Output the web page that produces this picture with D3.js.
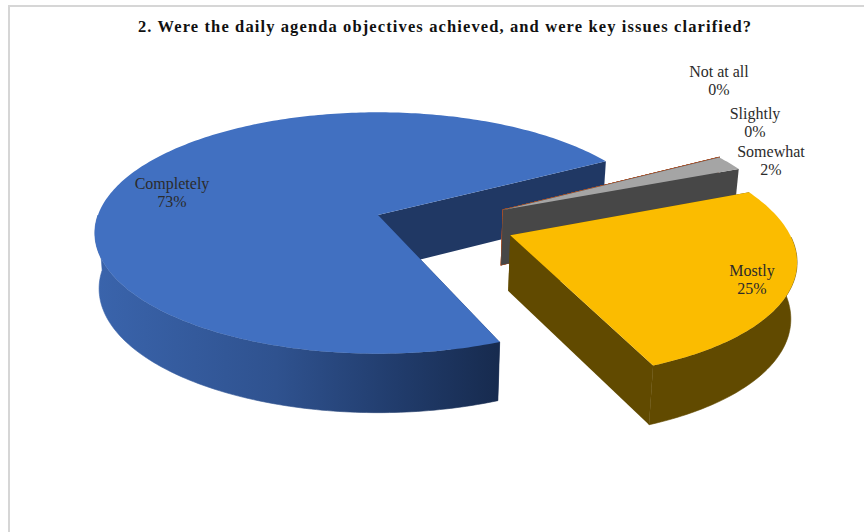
<!DOCTYPE html>
<html>
<head>
<meta charset="utf-8">
<script src="https://cdn.jsdelivr.net/npm/d3@7/dist/d3.min.js"></script>
<style>
html,body{margin:0;padding:0;background:#fff;}
svg{display:block;}
text{font-family:"Liberation Serif",serif;}
</style>
</head>
<body>
<svg id="chart" width="864" height="532"></svg>
<script>
const chartTitle = "2. Were the daily agenda objectives achieved, and were key issues clarified?";
const categories = ["Completely", "Not at all", "Slightly", "Somewhat", "Mostly"];
const percentages = [73, 0, 0, 2, 25];

// Exploded-slice pull on the pie plane, in radii.
const pullRadius = [0, 0.452, 0.452, 0.452, 0.49];
const pullAngleDeg = [0, -5.5, -5.5, -5.5, 20];
// Slices pulled out of the pie are drawn a little smaller.
const sliceRadius = [1, 0.99, 0.99, 0.99, 0.975];

const topColors = ["#4170C1", "#A5502A", "#A5502A", "#A5A5A5", "#FBBC00"];
const faceColors = ["#203864", "#A5502A", "#A5502A", "#474747", "#614A00"];
const wallColors = ["url(#blueWall)", "#A5502A", "#A5502A", "#474747", "#614A00"];

// Label anchors, by slice
const labelX = [172, 719, 755, 771, 752];
const labelY = [186, 74, 116, 154, 273];

const svg = d3.select("#chart");

const defs = svg.append("defs");
const grad = defs.append("linearGradient").attr("id", "blueWall")
  .attr("gradientUnits", "userSpaceOnUse")
  .attr("x1", 95).attr("x2", 497).attr("y1", 0).attr("y2", 0);
[[0, "#3A64AC"], [0.45, "#2F528F"], [0.75, "#213C6C"], [1, "#172B4F"]].forEach(([o, c]) =>
  grad.append("stop").attr("offset", o).attr("stop-color", c));

// Chart frame, running off the right and bottom of the page
svg.append("rect").attr("x", 9).attr("y", 6).attr("width", 900).attr("height", 600)
  .attr("fill", "#fff").attr("stroke", "#D6D6D6").attr("stroke-width", 2);

svg.append("text").attr("x", 444.5).attr("y", 32).attr("text-anchor", "middle")
  .attr("font-size", 16.5).attr("font-weight", "bold").attr("fill", "#111")
  .attr("textLength", 613).attr("lengthAdjust", "spacing")
  .text(chartTitle);

// Projection of the pie plane: perspective foreshortening toward the back of the disc.
const persp = 0.149;
const xScale = d3.scaleLinear().domain([0, 1]).range([378, 378 + 280]);
const yScale = d3.scaleLinear().domain([0, 1]).range([215, 215 + 118]);
const lowerShrink = 0.985;

// The pie's edge looks deeper toward the front of the disc.
function thicknessAt(v) { return 55 + 4 * v; }

function project(u, v, lower) {
  const d = 1 - persp * v;
  const s = lower ? lowerShrink : 1;
  return [
    xScale((u / d) * s),
    yScale(v / d) + (lower ? thicknessAt(v) : 0)
  ];
}

// d3.pie angles run clockwise from 12 o'clock; the first slice starts at 158 degrees.
const pie = d3.pie().sort(null).startAngle(158 * Math.PI / 180).endAngle((158 + 360) * Math.PI / 180);
const arcs = pie(percentages);
const line = d3.line().curve(d3.curveLinearClosed);

function planeAngle(a) { return a - Math.PI / 2; }

arcs.forEach((arc, i) => {
  const pa = pullAngleDeg[i] * Math.PI / 180;
  const cu = pullRadius[i] * Math.cos(pa);
  const cv = pullRadius[i] * Math.sin(pa);
  const a0 = planeAngle(arc.startAngle);
  const a1 = planeAngle(arc.endAngle);
  const n = Math.max(2, Math.ceil((a1 - a0) / (Math.PI / 180)));
  const r = sliceRadius[i];
  const angles = d3.range(n + 1).map(k => a0 + (a1 - a0) * k / n);
  const toRim = a => [cu + r * Math.cos(a), cv + r * Math.sin(a)];
  const rim = angles.map(toRim);
  // Only the part of the outer wall facing the viewer is painted.
  const frontRim = angles.filter(a => Math.sin(a) >= 0).map(toRim);

  const first = rim[0];
  const last = rim[rim.length - 1];
  const g = svg.append("g").attr("class", "slice");
  const isEmpty = percentages[i] === 0;
  const strokeFor = c => isEmpty ? c : "none";

  // Radial cut faces
  [first, last].forEach(p => {
    g.append("path")
      .attr("d", line([
        project(cu, cv, false), project(p[0], p[1], false),
        project(p[0], p[1], true), project(cu, cv, true)
      ]))
      .attr("fill", faceColors[i])
      .attr("stroke", strokeFor(faceColors[i])).attr("stroke-width", 1.2);
  });

  // Outer wall
  if (frontRim.length > 1) {
    g.append("path")
      .attr("d", line(
        frontRim.map(p => project(p[0], p[1], false))
          .concat(frontRim.slice().reverse().map(p => project(p[0], p[1], true)))
      ))
      .attr("fill", wallColors[i])
      .attr("stroke", wallColors[i]).attr("stroke-width", 0.6);
  }

  // Top surface
  g.append("path")
    .attr("d", line(
      [project(cu, cv, false)].concat(rim.map(p => project(p[0], p[1], false)))
    ))
    .attr("fill", topColors[i])
    .attr("stroke", strokeFor(topColors[i])).attr("stroke-width", 1.2);
});

// Category and percentage labels
categories.forEach((name, i) => {
  const t = svg.append("text").attr("text-anchor", "middle")
    .attr("font-size", 16).attr("fill", "#2B2B2B");
  t.append("tspan").attr("x", labelX[i]).attr("y", labelY[i] + 3).text(name);
  t.append("tspan").attr("x", labelX[i]).attr("y", labelY[i] + 21).text(percentages[i] + "%");
});
</script>
</body>
</html>
